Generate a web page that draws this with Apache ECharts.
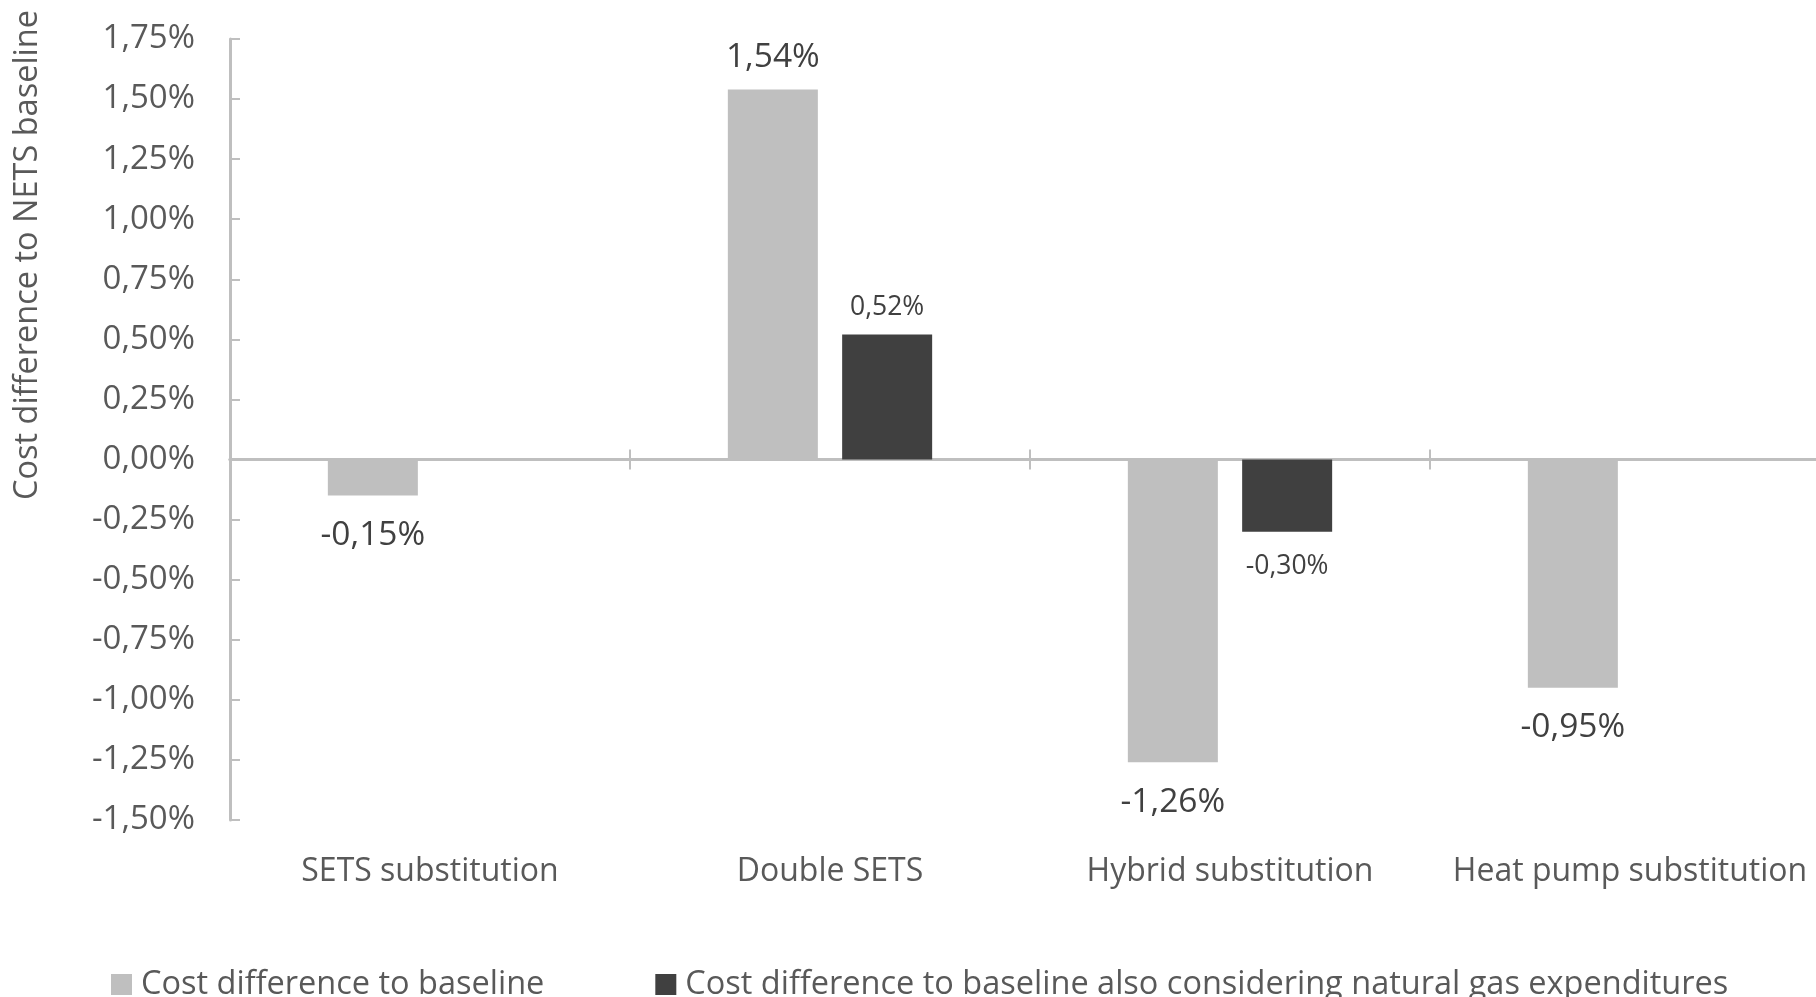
<!DOCTYPE html>
<html>
<head>
<meta charset="utf-8">
<title>Cost difference to NETS baseline</title>
<script src="https://cdn.jsdelivr.net/npm/echarts@6/dist/echarts.min.js"></script>
<style>
  html, body { margin: 0; padding: 0; background: #ffffff; overflow: hidden; }
  /* the plot runs a little past the right edge of the page */
  #chart { width: 1840px; height: 997px; }
</style>
</head>
<body>
<div id="chart"></div>
<script>
// Scenario names along the category axis
const categories = ['SETS substitution', 'Double SETS', 'Hybrid substitution', 'Heat pump substitution'];

// Cost difference in percent, one value per scenario (null = no bar)
const costDiff = [-0.15, 1.54, -1.26, -0.95];
const costDiffWithGas = [null, 0.52, -0.30, null];

const seriesNames = [
  'Cost difference to baseline',
  'Cost difference to baseline also considering natural gas expenditures'
];

// Value axis range and step
const yMin = -1.5;
const yMax = 1.75;
const yStep = 0.25;

const FONT = '"Open Sans", "Liberation Sans", sans-serif';
const AXIS_GREY = '#bfbfbf';
const TEXT_GREY = '#595959';
const LABEL_DARK = '#404040';

function pct(v) {
  return v.toFixed(2).replace('.', ',') + '%';
}

// Each bar gets its label above (positive) or below (negative) its end
function withLabels(values, size, distUp, distDown) {
  return values.map(v => {
    if (v === null) return null;
    return {
      value: v,
      label: {
        position: v >= 0 ? 'top' : 'bottom',
        distance: v >= 0 ? distUp : distDown,
        fontSize: size
      }
    };
  });
}

const chart = echarts.init(document.getElementById('chart'), null, { renderer: 'canvas' });

const valueAxisBase = { type: 'value', min: yMin, max: yMax, interval: yStep };

const option = {
  animation: false,
  backgroundColor: '#ffffff',
  textStyle: { fontFamily: FONT },
  grid: { left: 230, top: 39, width: 1600, height: 781, containLabel: false },
  legend: {
    left: 106,
    top: 963,
    itemWidth: 21,
    itemHeight: 21,
    itemGap: 111,
    icon: 'rect',
    textStyle: { fontFamily: FONT, fontSize: 32.5, color: TEXT_GREY, padding: [0, 0, 0, 4] },
    data: seriesNames
  },
  xAxis: [
    {
      // zero line with downward ticks
      type: 'category',
      data: categories,
      position: 'bottom',
      axisLine: { show: true, onZero: true, onZeroAxisIndex: 0, lineStyle: { color: AXIS_GREY, width: 3 } },
      axisTick: { show: true, length: 10, lineStyle: { color: AXIS_GREY, width: 2 } },
      axisLabel: { show: false },
      splitLine: { show: false }
    },
    {
      // upward half of the crossing ticks on the zero line
      type: 'category',
      data: categories,
      position: 'top',
      axisLine: { show: true, onZero: true, onZeroAxisIndex: 1, lineStyle: { color: AXIS_GREY, width: 3 } },
      axisTick: { show: true, length: 10, lineStyle: { color: AXIS_GREY, width: 2 } },
      axisLabel: { show: false },
      splitLine: { show: false }
    },
    {
      // category names along the bottom of the plot
      type: 'category',
      data: categories,
      position: 'bottom',
      axisLine: { show: false, onZero: false },
      axisTick: { show: false },
      axisLabel: {
        show: true,
        margin: 36,
        fontFamily: FONT,
        fontSize: 32,
        color: TEXT_GREY,
        interval: 0
      },
      splitLine: { show: false }
    }
  ],
  yAxis: [
    Object.assign({}, valueAxisBase, {
      position: 'left',
      axisLine: { show: true, lineStyle: { color: AXIS_GREY, width: 3 } },
      axisTick: { show: true, inside: true, length: 10, lineStyle: { color: AXIS_GREY, width: 2 } },
      axisLabel: {
        margin: 35,
        fontFamily: FONT,
        fontSize: 33,
        color: TEXT_GREY,
        formatter: v => pct(v)
      },
      splitLine: { show: false }
    }),
    // same scale, not drawn; anchors the upper tick axis to zero
    Object.assign({}, valueAxisBase, {
      position: 'left',
      show: false,
      splitLine: { show: false }
    })
  ],
  graphic: [
    {
      type: 'text',
      x: 28,
      y: 255,
      rotation: Math.PI / 2,
      style: {
        text: 'Cost difference to NETS baseline',
        font: '32.5px ' + FONT,
        fill: TEXT_GREY,
        align: 'center',
        verticalAlign: 'middle'
      }
    }
  ],
  series: [
    {
      name: seriesNames[0],
      type: 'bar',
      xAxisIndex: 0,
      yAxisIndex: 0,
      barWidth: 90,
      barGap: '27%',
      itemStyle: { color: '#bfbfbf' },
      label: {
        show: true,
        fontFamily: FONT,
        color: LABEL_DARK,
        formatter: p => pct(p.value)
      },
      data: withLabels(costDiff, 33.5, 15, 23)
    },
    {
      name: seriesNames[1],
      type: 'bar',
      xAxisIndex: 0,
      yAxisIndex: 0,
      barWidth: 90,
      barGap: '27%',
      itemStyle: { color: '#404040' },
      label: {
        show: true,
        fontFamily: FONT,
        color: LABEL_DARK,
        formatter: p => pct(p.value)
      },
      data: withLabels(costDiffWithGas, 26.5, 14, 21)
    }
  ]
};

chart.setOption(option);
</script>
</body>
</html>
